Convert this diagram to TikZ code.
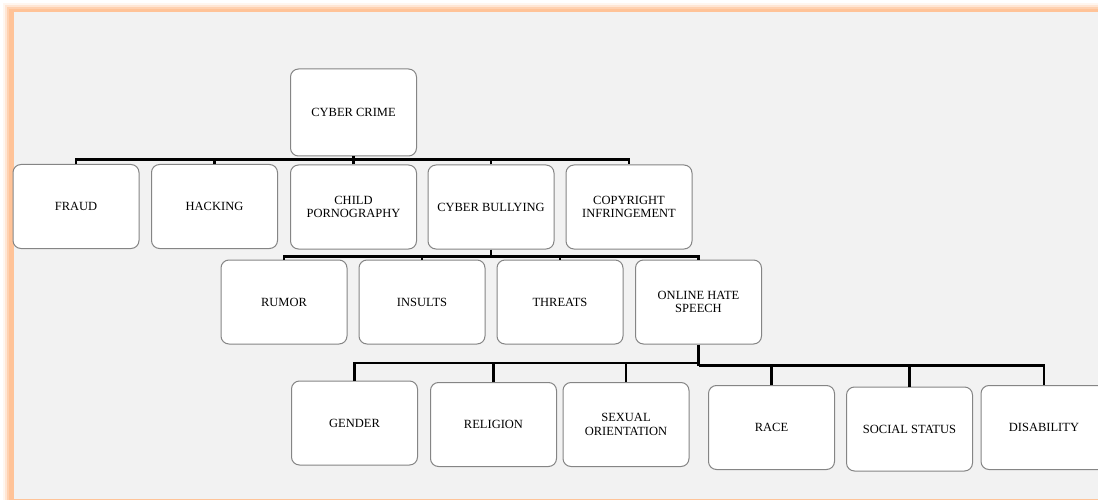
\documentclass[tikz,border=0pt]{standalone}
\usepackage{fontspec}
\setmainfont{Liberation Serif}
\definecolor{framecol}{RGB}{255,195,152}
\definecolor{panel}{HTML}{F2F2F2}
\definecolor{boxgray}{HTML}{858585}
\begin{document}
\begin{tikzpicture}[x=1pt,y=-1pt,
  box/.style={draw=boxgray, line width=1pt, fill=white, rounded corners=8pt,
    minimum width=126pt, minimum height=84pt, inner sep=2pt, align=center,
    font=\fontsize{12.5}{13.4}\selectfont},
  conn/.style={line width=2.8pt, black}]
\useasboundingbox (0,0) rectangle (1098,500);
\clip (0,0) rectangle (1098,500);
% page frame with a soft orange glow
\fill[white] (0,0) rectangle (1098,500);
\fill[framecol, opacity=0.15] (3,3) rectangle (1200,600);
\fill[framecol, opacity=0.3] (5,5) rectangle (1200,600);
\fill[framecol, opacity=0.6] (7,7) rectangle (1200,600);
\fill[framecol] (9,9) rectangle (1200,600);
\fill[panel] (13.5,12.5) rectangle (1200,499);

% root
\node[box, minimum height=87pt] (root) at (353.5,112.5) {CYBER CRIME};

% first level
\node[box] (fraud)   at (76,206.5)   {FRAUD};
\node[box] (hack)    at (214.5,206.5) {HACKING};
\node[box] (child)   at (353.5,207)  {CHILD\\PORNOGRAPHY};
\node[box] (bully)   at (491,207)    {CYBER BULLYING};
\node[box] (copy)    at (629,207)    {COPYRIGHT\\INFRINGEMENT};

% second level
\node[box] (rumor)   at (284,302)    {RUMOR};
\node[box] (insults) at (422,302)    {INSULTS};
\node[box] (threats) at (560,302)    {THREATS};
\node[box] (hate)    at (698.5,302)  {ONLINE HATE\\SPEECH};

% third level
\node[box] (gender)   at (354.5,423)  {GENDER};
\node[box] (religion) at (493.5,424.5) {RELIGION};
\node[box] (sexual)   at (626,424.5)  {SEXUAL\\ORIENTATION};
\node[box] (race)     at (771.5,427.5) {RACE};
\node[box] (social)   at (909.5,429)  {SOCIAL STATUS};
\node[box] (disab)    at (1044,427.5) {DISABILITY};

% bar heights
\coordinate (b1) at (0,159.5);
\coordinate (b2) at (0,256.5);
\coordinate (b3l) at (0,363);
\coordinate (b3r) at (0,365.5);

% connectors: level 1
\draw[conn] (root.south) -- (root.south |- b1);
\draw[conn] (fraud.north) -- (fraud.north |- b1) -- (copy.north |- b1) -- (copy.north);
\foreach \n in {hack,child,bully}
  \draw[conn] (\n.north) -- (\n.north |- b1);

% connectors: level 2
\draw[conn] (bully.south) -- (bully.south |- b2);
\draw[conn] (rumor.north) -- (rumor.north |- b2) -- (hate.north |- b2) -- (hate.north);
\foreach \n in {insults,threats}
  \draw[conn] (\n.north) -- (\n.north |- b2);

% connectors: level 3
\draw[conn] (hate.south) -- (hate.south |- b3r);
\draw[conn] (gender.north) -- (gender.north |- b3l) -- (hate.south |- b3l);
\foreach \n in {religion,sexual}
  \draw[conn] (\n.north) -- (\n.north |- b3l);
\draw[conn] (hate.south |- b3r) -- (disab.north |- b3r) -- (disab.north);
\foreach \n in {race,social}
  \draw[conn] (\n.north) -- (\n.north |- b3r);
\end{tikzpicture}
\end{document}
